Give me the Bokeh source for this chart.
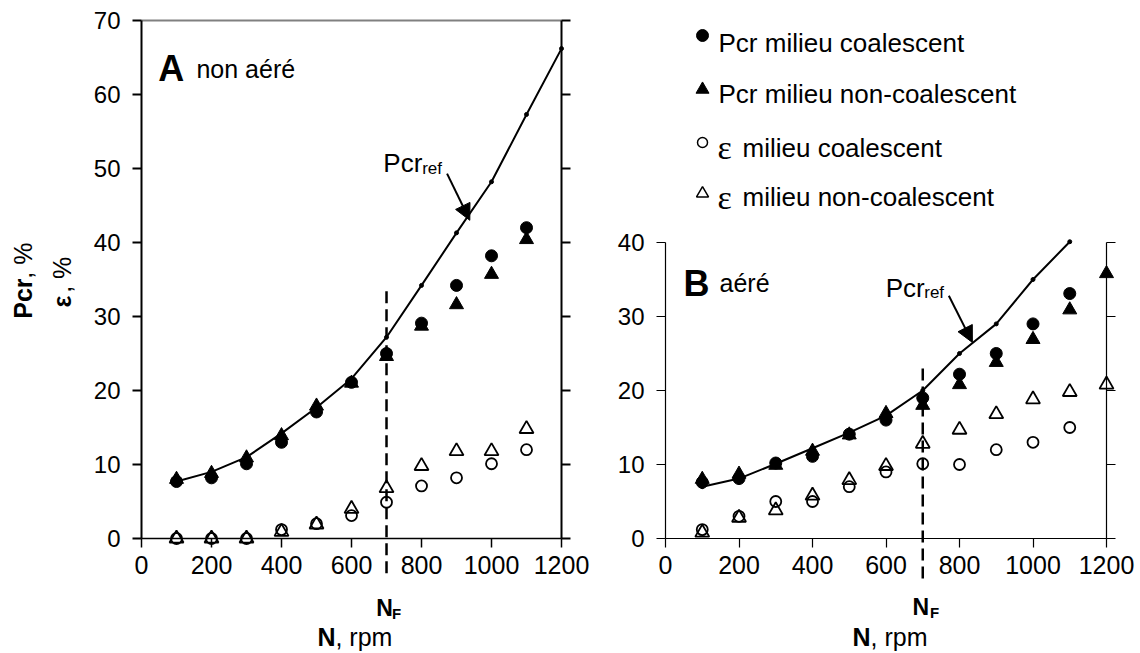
from bokeh.plotting import figure
from bokeh.models import LinearAxis, FixedTicker, Range1d, Arrow, NormalHead
from bokeh.layouts import row
from bokeh.core.properties import value
from bokeh.embed import file_html
from bokeh.resources import INLINE
import math

FONT = "Liberation Sans"
SERIF = "Liberation Serif"

# Stirring speed N, rpm
speed = [100, 200, 300, 400, 500, 600, 700, 800, 900, 1000, 1100]
speed_b = [100, 200, 300, 400, 500, 600, 700, 800, 900, 1000, 1100, 1200]
speed_ref_a = [100, 200, 300, 400, 500, 600, 700, 800, 900, 1000, 1100, 1200]
speed_ref_b = [100, 200, 300, 400, 500, 600, 700, 800, 900, 1000, 1100]

# Just-suspended speed N_F, rpm
n_f = 700

# Panel A : non aéré
a_pcr_ref = [7.7, 9.0, 11.0, 14.2, 17.7, 21.6, 27.2, 34.2, 41.3, 48.2, 57.3, 66.2]
a_pcr_coal = [7.7, 8.2, 10.1, 13.0, 17.1, 21.1, 25.0, 29.1, 34.2, 38.2, 42.0]
a_pcr_noncoal = [8.0, 8.8, 10.9, 13.9, 17.9, 21.0, 24.6, 28.7, 31.6, 35.7, 40.4]
a_eps_coal = [0.0, 0.0, 0.0, 1.2, 2.0, 3.1, 4.9, 7.1, 8.2, 10.1, 12.0]
a_eps_noncoal = [0.0, 0.0, 0.0, 0.9, 1.9, 4.0, 6.8, 9.8, 11.8, 11.8, 14.8]

# Panel B : aéré
b_pcr_ref = [7.0, 8.1, 10.1, 12.2, 14.3, 16.6, 20.0, 25.0, 29.0, 35.0, 40.1]
b_pcr_coal = [7.6, 8.1, 10.2, 11.1, 14.1, 16.0, 19.0, 22.2, 25.0, 29.0, 33.1]
b_pcr_noncoal = [8.0, 8.7, 9.9, 11.8, 14.0, 16.9, 18.0, 20.8, 23.8, 26.9, 30.9, 35.8]
b_eps_coal = [1.2, 3.0, 5.0, 5.0, 7.0, 9.0, 10.1, 10.0, 12.0, 13.0, 15.0]
b_eps_noncoal = [0.8, 2.8, 3.8, 5.8, 7.9, 9.8, 12.8, 14.7, 16.8, 18.8, 19.8, 20.8]

y_ticks_a = [0, 10, 20, 30, 40, 50, 60, 70]
y_ticks_b = [0, 10, 20, 30, 40]
x_ticks = [0, 200, 400, 600, 800, 1000, 1200]

# vertical extent of the dashed N_F markers
nf_dash_a = (-4.7, 34.0)
nf_dash_b = (-5.4, 23.6)

legend_labels = ["Pcr milieu coalescent", "Pcr milieu non-coalescent",
                 "milieu coalescent", "milieu non-coalescent"]

Y_RANGE = (-15.54, 72.70)


def txt(p, x, y, s, size, bold=False, font=FONT, align="left",
        baseline="alphabetic", angle=0.0):
    p.text(x=[x], y=[y], text=[s], text_font=value(font),
           text_font_size=value(f"{size}px"),
           text_font_style="bold" if bold else "normal",
           text_align=align, text_baseline=baseline, angle=angle,
           text_color="black")


def axis(loc, bounds, ticks, width, labels=True, size=24, standoff=12):
    ax = LinearAxis(fixed_location=loc, bounds=bounds,
                    ticker=FixedTicker(ticks=ticks),
                    axis_line_color="black", axis_line_width=width,
                    major_tick_line_color="black", major_tick_line_width=width,
                    major_tick_in=0, major_tick_out=9,
                    minor_tick_in=0, minor_tick_out=0,
                    major_label_text_font=FONT,
                    major_label_text_font_size=f"{size}px",
                    major_label_text_color="black",
                    major_label_standoff=standoff)
    if not labels:
        ax.major_label_overrides = {t: "" for t in ticks}
    return ax


def base_figure(width, x_range):
    p = figure(width=width, height=653, output_backend="svg",
               toolbar_location=None, x_axis_location=None,
               y_axis_location=None, min_border=0,
               x_range=Range1d(*x_range), y_range=Range1d(*Y_RANGE))
    p.grid.visible = False
    p.outline_line_color = None
    p.background_fill_color = "white"
    p.border_fill_color = "white"
    return p


def draw_series(p, xs_main, xs_b, pcr_c, pcr_n, eps_c, eps_n):
    p.scatter(xs_b[:len(pcr_n)], pcr_n, marker="triangle", size=14,
              fill_color="black", line_color="black")
    p.scatter(xs_main[:len(pcr_c)], pcr_c, marker="circle", size=12,
              fill_color="black", line_color="black")
    p.scatter(xs_main[:len(eps_c)], eps_c, marker="circle", size=11,
              fill_color=None, line_color="black", line_width=1.8)
    p.scatter(xs_b[:len(eps_n)], eps_n, marker="triangle", size=14,
              fill_color=None, line_color="black", line_width=1.8)


# ---------------- Panel A ----------------
pa = base_figure(600, (-402.9, 1311.4))
pa.add_layout(axis(0, (0, 70), y_ticks_a, 2), "left")
pa.add_layout(axis(1200, (0, 70), y_ticks_a, 2, labels=False), "right")
pa.add_layout(axis(0, (0, 1200), x_ticks, 1.5, size=25, standoff=9), "below")
pa.line([0, 1200], [70, 70], line_color="#808080", line_width=2)

pa.line(speed_ref_a, a_pcr_ref, line_color="black", line_width=2)
pa.scatter(speed_ref_a, a_pcr_ref, size=4, color="black")
draw_series(pa, speed, speed, a_pcr_coal, a_pcr_noncoal, a_eps_coal, a_eps_noncoal)

pa.segment(x0=[n_f], y0=[nf_dash_a[0]], x1=[n_f], y1=[nf_dash_a[1]],
           line_color="black", line_width=2.5, line_dash="12 6")

pa.add_layout(Arrow(x_start=873, y_start=49.3, x_end=938, y_end=43.0,
                    line_width=2, line_color="black",
                    end=NormalHead(size=16, fill_color="black", line_color="black")))
txt(pa, 691, 50.7, "Pcr", 26)
txt(pa, 802, 50.0, "ref", 17)

txt(pa, 48, 63.5, "A", 36, bold=True)
txt(pa, 157, 63.5, "non aéré", 25)

# y-axis titles
txt(pa, -340, 29.7, "Pcr", 25, bold=True, baseline="middle", angle=math.pi / 2)
txt(pa, -340, 35.1, ", %", 25, baseline="middle", angle=math.pi / 2)
txt(pa, -226, 31.2, "ε", 25, bold=True, baseline="middle", angle=math.pi / 2)
txt(pa, -226, 33.2, ", %", 25, baseline="middle", angle=math.pi / 2)

# N_F and x-axis title
txt(pa, 671, -9.4, "N", 23, bold=True)
txt(pa, 716, -10.1, "F", 15, bold=True)
txt(pa, 503, -13.3, "N", 25, bold=True)
txt(pa, 554, -13.3, ", rpm", 25)

# ---------------- Panel B ----------------
pb = base_figure(540, (-176.9, 1292.5))
pb.add_layout(axis(0, (0, 40), y_ticks_b, 1.2), "left")
pb.add_layout(axis(1200, (0, 40), y_ticks_b, 1.2, labels=False), "right")
pb.add_layout(axis(0, (0, 1200), x_ticks, 1.2, size=25, standoff=9), "below")

pb.line(speed_ref_b, b_pcr_ref, line_color="black", line_width=2)
pb.scatter(speed_ref_b, b_pcr_ref, size=4, color="black")
draw_series(pb, speed, speed_b, b_pcr_coal, b_pcr_noncoal, b_eps_coal, b_eps_noncoal)

pb.segment(x0=[n_f], y0=[nf_dash_b[0]], x1=[n_f], y1=[nf_dash_b[1]],
           line_color="black", line_width=2.5, line_dash="12 6")

pb.add_layout(Arrow(x_start=771, y_start=32.8, x_end=835, y_end=26.5,
                    line_width=2, line_color="black",
                    end=NormalHead(size=16, fill_color="black", line_color="black")))
txt(pb, 599, 33.9, "Pcr", 26)
txt(pb, 704, 33.3, "ref", 17)

txt(pb, 49, 34.5, "B", 36, bold=True)
txt(pb, 147, 34.5, "aéré", 25)

txt(pb, 672, -9.3, "N", 23, bold=True)
txt(pb, 720, -10.0, "F", 15, bold=True)
txt(pb, 509, -13.3, "N", 25, bold=True)
txt(pb, 558, -13.3, ", rpm", 25)

# legend
leg_x = 100.7
leg_text_x = 144.2
leg_marker_y = [67.97, 60.68, 53.51, 46.62]
leg_base_y = [67.0, 60.1, 52.8, 46.1]
pb.scatter([leg_x], [leg_marker_y[0]], marker="circle", size=12, color="black")
pb.scatter([leg_x], [leg_marker_y[1]], marker="triangle", size=13, color="black")
pb.scatter([leg_x], [leg_marker_y[2]], marker="circle", size=10,
           fill_color=None, line_color="black", line_width=1.5)
pb.scatter([leg_x], [leg_marker_y[3]], marker="triangle", size=12,
           fill_color=None, line_color="black", line_width=1.5)
txt(pb, leg_text_x, leg_base_y[0], legend_labels[0], 26)
txt(pb, leg_text_x, leg_base_y[1], legend_labels[1], 26)
for i in (2, 3):
    txt(pb, 141.5, leg_base_y[i], "ε", 34, font=SERIF)
    txt(pb, 209.5, leg_base_y[i], legend_labels[i], 26)

layout = row(pa, pb)
open("out.html", "w").write(file_html(layout, INLINE))
